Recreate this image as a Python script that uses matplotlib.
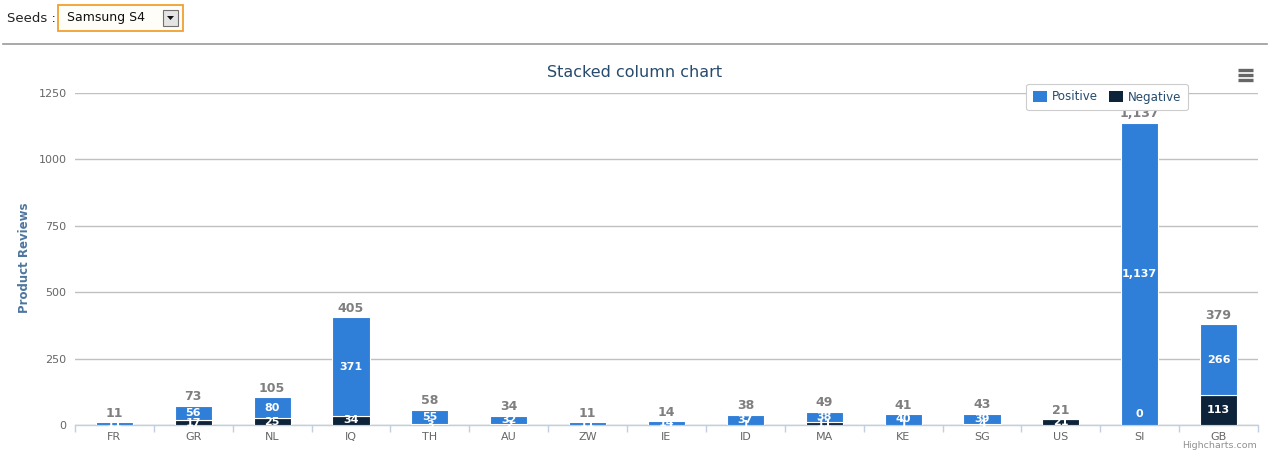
import numpy as np
import matplotlib
matplotlib.use('Agg')
import matplotlib.pyplot as plt
from matplotlib.patches import Rectangle, Patch, Polygon
from matplotlib.lines import Line2D

countries = ['FR', 'GR', 'NL', 'IQ', 'TH', 'AU', 'ZW', 'IE', 'ID', 'MA', 'KE', 'SG', 'US', 'SI', 'GB']
positive = [11, 56, 80, 371, 55, 32, 11, 14, 37, 38, 40, 39, 0, 1137, 266]
negative = [0, 17, 25, 34, 3, 2, 0, 0, 1, 11, 1, 4, 21, 0, 113]
yticks = [0, 250, 500, 750, 1000, 1250]

W, H = 1272, 453
fig = plt.figure(figsize=(W / 100, H / 100), dpi=100)
plt.rcParams['font.family'] = 'DejaVu Sans'

def fx(px):
    return px / W

def fy(py):
    return 1 - py / H

# page header: "Seeds :" + dropdown
fig.text(fx(7), fy(18), 'Seeds :', fontsize=9.5, color='#222222', va='center', ha='left')
fig.patches.append(Rectangle((fx(58), fy(31)), fx(125), (26) / H, transform=fig.transFigure,
                             facecolor='#fffdf8', edgecolor='#f0a030', lw=1.3))
fig.text(fx(67), fy(18), 'Samsung S4', fontsize=9, color='#111111', va='center', ha='left')
fig.patches.append(Rectangle((fx(163), fy(26)), fx(15), 16 / H, transform=fig.transFigure,
                             facecolor='#e4e4e4', edgecolor='#707070', lw=0.8))
fig.patches.append(Polygon([[fx(167), fy(16)], [fx(174), fy(16)], [fx(170.5), fy(20)]],
                           closed=True, transform=fig.transFigure, facecolor='#111111', edgecolor='none'))
fig.lines.append(Line2D([fx(3), fx(1267)], [fy(44), fy(44)], transform=fig.transFigure,
                        color='#9a9a9a', lw=1.2))

# plot area
left, right, top, bottom = 75, 1258, 93, 425
ax = fig.add_axes([fx(left), fy(bottom), fx(right - left), (bottom - top) / H])
x = np.arange(len(countries))
pos = np.array(positive)
neg = np.array(negative)

ax.bar(x, neg, width=0.47, color='#0d233a', edgecolor='white', linewidth=0.8, zorder=3)
ax.bar(x, pos, bottom=neg, width=0.47, color='#2f7ed8', edgecolor='white', linewidth=0.8, zorder=3)

ax.set_xlim(-0.5, len(countries) - 0.5)
ax.set_ylim(0, 1250)
ax.set_yticks(yticks)
ax.set_yticklabels([str(v) for v in yticks])
ax.grid(axis='y', color='#c0c0c0', lw=1, zorder=0)
ax.set_axisbelow(True)
for s in ['top', 'right', 'left']:
    ax.spines[s].set_visible(False)
ax.spines['bottom'].set_color('#c0d0e0')
ax.spines['bottom'].set_linewidth(1)
ax.tick_params(axis='y', length=0, pad=6, labelsize=8, labelcolor='#666666')
ax.set_xticks(x)
ax.set_xticklabels(countries)
ax.tick_params(axis='x', length=0, pad=5, labelsize=8, labelcolor='#666666')
ax.set_xticks(np.arange(-0.5, len(countries)), minor=True)
ax.tick_params(axis='x', which='minor', length=5, color='#c0d0e0', width=1)

# data labels inside segments (small stacks overlap, as in the original)
for i in range(len(countries)):
    if neg[i] > 0:
        ax.text(i, neg[i] / 2, str(neg[i]), ha='center', va='center', color='white',
                fontsize=8, fontweight='bold', zorder=5)
    elif pos[i] > 0 and i == 13:
        ax.annotate('0', (i, 0), xytext=(0, 8), textcoords='offset points', ha='center',
                    va='center', color='white', fontsize=8, fontweight='bold', zorder=5)
    if pos[i] > 0:
        ax.text(i, neg[i] + pos[i] / 2, f'{pos[i]:,}', ha='center', va='center', color='white',
                fontsize=8, fontweight='bold', zorder=5)

# stack totals
for i in range(len(countries)):
    tot = pos[i] + neg[i]
    ax.annotate(f'{tot:,}', (i, tot), xytext=(0, 6.5), textcoords='offset points', ha='center',
                va='center', color='#7f7f7f', fontsize=9, fontweight='bold', zorder=6,
                annotation_clip=False)

# title, axis label, credit
fig.text(fx(635), fy(73), 'Stacked column chart', fontsize=11.5, color='#274b6d', ha='center', va='center')
fig.text(fx(25), fy(258), 'Product Reviews', rotation=90, fontsize=8.5, fontweight='bold',
         color='#4d759e', ha='center', va='center')
fig.text(fx(1257), fy(446), 'Highcharts.com', fontsize=6.8, color='#909090', ha='right', va='center')

# legend
handles = [Patch(facecolor='#2f7ed8', edgecolor='none'), Patch(facecolor='#0d233a', edgecolor='none')]
leg = fig.legend(handles, ['Positive', 'Negative'], ncol=2, loc='center',
                 bbox_to_anchor=(fx(1107), fy(97)), fontsize=8.6, frameon=True, fancybox=True,
                 handlelength=1.2, handleheight=1.1, handletextpad=0.4, columnspacing=0.9,
                 borderpad=0.55, labelcolor='#274b6d')
leg.get_frame().set_edgecolor('#cccccc')
leg.get_frame().set_linewidth(0.8)
leg.get_frame().set_facecolor('white')
leg.get_frame().set_alpha(1)

# export menu icon
for yy in [70, 75, 80]:
    fig.lines.append(Line2D([fx(1238), fx(1253)], [fy(yy), fy(yy)], transform=fig.transFigure,
                            color='#666666', lw=2.4, solid_capstyle='butt'))

fig.savefig('out.png', dpi=100)
